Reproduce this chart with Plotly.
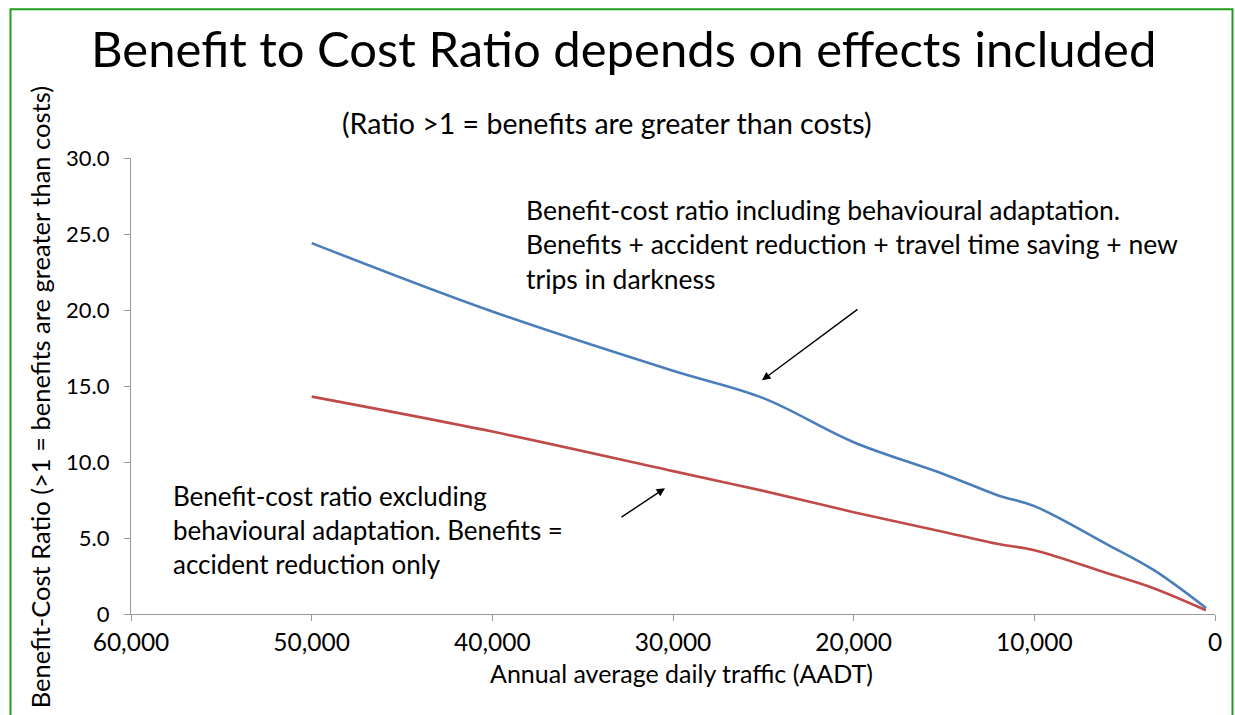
import plotly.graph_objects as go

# ---- data ----
aadt = [50000, 40000, 30000, 25000, 20000, 15000, 12000, 10000, 6000, 3400, 500]
bcr_including = [24.4, 19.9, 16.0, 14.2, 11.3, 9.2, 7.8, 7.1, 4.6, 2.9, 0.4]
bcr_excluding = [14.3, 12.0, 9.4, 8.1, 6.7, 5.4, 4.6, 4.2, 2.7, 1.7, 0.25]

x_tickvals = [60000, 50000, 40000, 30000, 20000, 10000, 0]
x_ticktext = ["60,000", "50,000", "40,000", "30,000", "20,000", "10,000", "0"]
y_tickvals = [0, 5, 10, 15, 20, 25, 30]
y_ticktext = ["0", "5.0", "10.0", "15.0", "20.0", "25.0", "30.0"]

W, H = 1235, 715
L, R, T, B = 131, 1215, 157.5, 614  # plot area in pixels

def px(x):
    return (x - L) / (R - L)

def py(y):
    return (B - y) / (B - T)

FONT = "Lato"

fig = go.Figure()
fig.add_trace(go.Scatter(x=aadt, y=bcr_including, mode="lines",
                         line=dict(color="#4A7EBB", width=2.6, shape="spline", smoothing=1.0),
                         name="Including behavioural adaptation", showlegend=False))
fig.add_trace(go.Scatter(x=aadt, y=bcr_excluding, mode="lines",
                         line=dict(color="#BE4B48", width=2.6, shape="spline", smoothing=1.0),
                         name="Excluding behavioural adaptation", showlegend=False))

annotations = [
    dict(text="Benefit to Cost Ratio depends on effects included", x=px(623), y=py(47),
         font=dict(size=49, color="black", family=FONT)),
    dict(text="(Ratio >1 = benefits are greater than costs)", x=px(607), y=py(122),
         font=dict(size=28.5, color="black", family=FONT)),
    dict(text="Annual average daily traffic (AADT)", x=px(681), y=py(673),
         font=dict(size=25, color="black", family=FONT)),
    dict(text="Benefit-Cost Ratio (>1 = benefits are greater than costs)", x=px(40), y=py(397),
         textangle=-90, font=dict(size=25.5, color="black", family=FONT)),
    dict(text="Benefit-cost ratio including behavioural adaptation.<br>"
              "Benefits + accident reduction + travel time saving + new<br>trips in darkness",
         x=px(524), y=py(244), xanchor="left", align="left",
         font=dict(size=26.5, color="black", family=FONT)),
    dict(text="Benefit-cost ratio excluding<br>behavioural adaptation. Benefits =<br>accident reduction only",
         x=px(171), y=py(530), xanchor="left", align="left",
         font=dict(size=26, color="black", family=FONT)),
]
for a in annotations:
    a.setdefault("xanchor", "center")
    a.setdefault("yanchor", "middle")
    a.update(xref="paper", yref="paper", showarrow=False)

# arrows (head, tail in pixels)
def arrow(hx, hy, tx, ty):
    return dict(x=px(hx), y=py(hy), ax=tx - hx, ay=ty - hy, xref="paper", yref="paper",
                axref="pixel", ayref="pixel", text="", showarrow=True,
                arrowhead=2, arrowsize=1.2, arrowwidth=1.4, arrowcolor="black")

annotations.append(arrow(762, 380, 859, 308))
annotations.append(arrow(665, 488, 620, 518))

fig.update_layout(
    width=W, height=H,
    margin=dict(l=L, r=W - R, t=T, b=H - B, pad=0),
    paper_bgcolor="white", plot_bgcolor="white",
    font=dict(family=FONT, color="black"),
    annotations=annotations,
    shapes=[dict(type="rect", xref="paper", yref="paper",
                 x0=px(10.5), x1=px(1232.5), y0=py(720), y1=py(8.5),
                 line=dict(color="#1E9E1E", width=2), layer="below")],
    xaxis=dict(range=[60000, 0], tickvals=x_tickvals, ticktext=x_ticktext,
               showgrid=False, zeroline=False, showline=True, linecolor="#9A9A9A", linewidth=1.2,
               ticks="outside", ticklen=6, tickcolor="#9A9A9A",
               tickfont=dict(size=24.5, family=FONT, color="black")),
    yaxis=dict(range=[0, 30], tickvals=y_tickvals, ticktext=y_ticktext,
               showgrid=False, zeroline=False, showline=True, linecolor="#9A9A9A", linewidth=1.2,
               ticks="outside", ticklen=6, tickcolor="#9A9A9A", ticklabelstandoff=10,
               tickfont=dict(size=22, family=FONT, color="black")),
)

fig.write_html("out.html")
